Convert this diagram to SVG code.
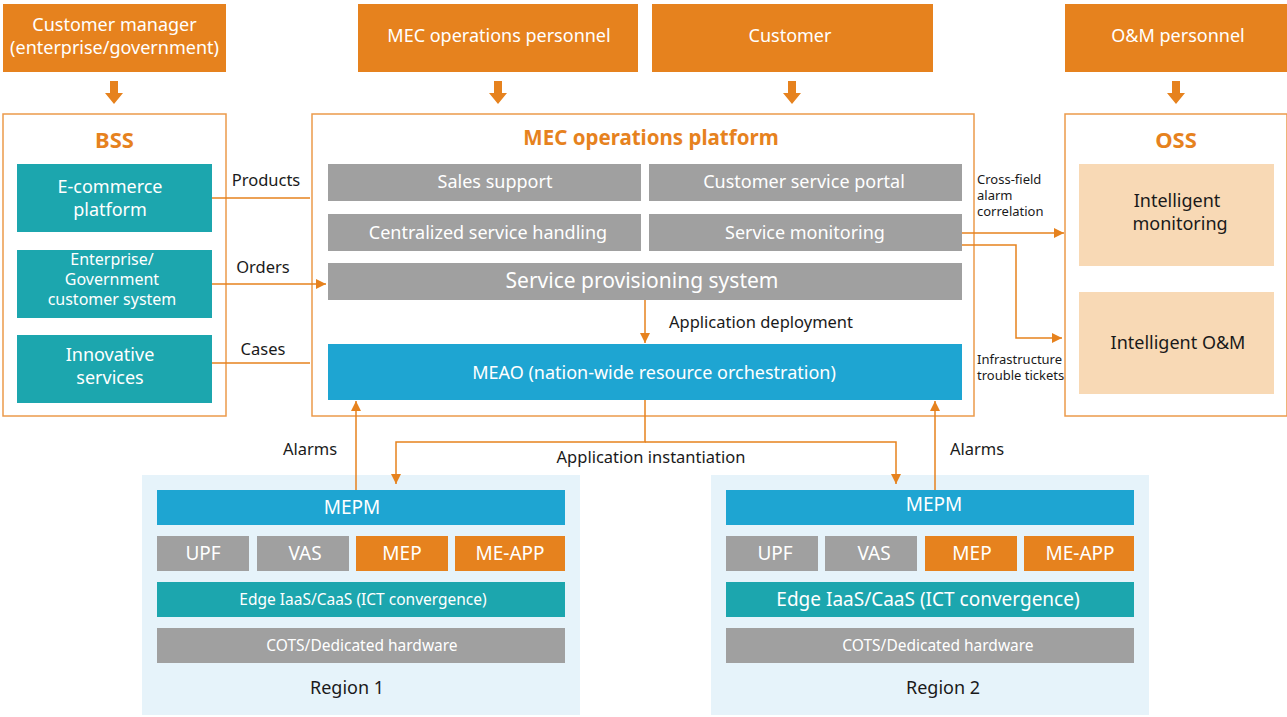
<svg xmlns="http://www.w3.org/2000/svg" width="1287" height="717" viewBox="0 0 1287 717">
<defs>
<style>
text{font-family:"Noto Sans","Open Sans","DejaVu Sans",sans-serif}
.or{fill:#e6821e}
.teal{fill:#1ca6ae}
.blue{fill:#1ea5d2}
.gray{fill:#a0a0a0}
.peach{fill:#f8d9b5}
.frame{fill:#fff;stroke:#eb9a4b;stroke-width:1.5}
.wt{fill:#fff;font-size:18px;text-anchor:middle}
.bt{fill:#1a1a1a;font-size:18px;text-anchor:middle}
.title{fill:#e6821e;font-weight:bold;text-anchor:middle}
.lbl{fill:#1a1a1a;font-size:16.5px}
.sm{fill:#1a1a1a;font-size:13px}
.ln{fill:none;stroke:#e6821e;stroke-width:1.5}
.f15{font-size:15.5px}
.f16{font-size:16px}
.f19{font-size:19px}
.f21{font-size:21px}
</style>
<marker id="ah" viewBox="0 0 10 10" refX="10" refY="5" markerWidth="10" markerHeight="10" markerUnits="userSpaceOnUse" orient="auto">
<path d="M0,0 L10,5 L0,10 z" fill="#e6821e"/>
</marker>
<path id="bigdown" d="M-4,0 H4 V12 H9 L0,23 L-9,12 H-4 z" fill="#e6821e"/>
</defs>

<!-- top actors -->
<g id="customer-manager"><rect x="3" y="4" width="223" height="68" class="or"/><text class="wt" x="114.5" y="31">Customer manager</text><text class="wt" x="114.5" y="54">(enterprise/government)</text></g>
<g id="mec-ops-personnel"><rect x="358" y="4" width="280" height="68" class="or"/><text class="wt" x="499" y="42">MEC operations personnel</text></g>
<g id="customer"><rect x="652" y="4" width="281" height="68" class="or"/><text class="wt" x="790" y="42">Customer</text></g>
<g id="om-personnel"><rect x="1065" y="4" width="222" height="68" class="or"/><text class="wt" x="1178" y="42">O&amp;M personnel</text></g>

<g id="top-arrows">
<use href="#bigdown" x="114" y="81"/>
<use href="#bigdown" x="498" y="81"/>
<use href="#bigdown" x="792" y="81"/>
<use href="#bigdown" x="1176" y="81"/>
</g>

<!-- BSS -->
<g id="bss">
<rect x="3" y="114" width="223" height="302" class="frame"/>
<text class="title" x="114.5" y="148" style="font-size:22px">BSS</text>
<g id="ecommerce"><rect x="17" y="164" width="195" height="68" class="teal"/><text class="wt" x="110" y="193">E-commerce</text><text class="wt" x="110" y="216">platform</text></g>
<g id="egcs"><rect x="17" y="250" width="195" height="68" class="teal"/><text class="wt f16" x="112" y="265">Enterprise/</text><text class="wt f16" x="112" y="285">Government</text><text class="wt f16" x="112" y="305">customer system</text></g>
<g id="innovative"><rect x="17" y="335" width="195" height="68" class="teal"/><text class="wt" x="110" y="361">Innovative</text><text class="wt" x="110" y="384">services</text></g>
</g>

<!-- MEC operations platform -->
<g id="mec-platform">
<rect x="312" y="114" width="662" height="302" class="frame"/>
<text class="title" x="651" y="145" style="font-size:20.5px">MEC operations platform</text>
<g id="sales-support"><rect x="328" y="164" width="313" height="37" class="gray"/><text class="wt" x="495" y="188">Sales support</text></g>
<g id="cs-portal"><rect x="649" y="164" width="313" height="37" class="gray"/><text class="wt" x="804" y="188">Customer service portal</text></g>
<g id="centralized"><rect x="328" y="214" width="313" height="37" class="gray"/><text class="wt" x="488" y="239">Centralized service handling</text></g>
<g id="service-monitoring"><rect x="649" y="214" width="313" height="37" class="gray"/><text class="wt" x="805" y="239">Service monitoring</text></g>
<g id="provisioning"><rect x="328" y="263" width="634" height="37" class="gray"/><text class="wt f21" x="642" y="288">Service provisioning system</text></g>
<g id="meao"><rect x="328" y="344" width="634" height="56" class="blue"/><text class="wt" x="654" y="379">MEAO (nation-wide resource orchestration)</text></g>
</g>

<!-- OSS -->
<g id="oss">
<rect x="1065" y="114" width="222" height="302" class="frame"/>
<text class="title" x="1176" y="148" style="font-size:22px">OSS</text>
<g id="intel-monitoring"><rect x="1079" y="164" width="195" height="102" class="peach"/><text class="bt" x="1177" y="207">Intelligent</text><text class="bt" x="1180" y="230">monitoring</text></g>
<g id="intel-om"><rect x="1079" y="292" width="195" height="102" class="peach"/><text class="bt" x="1178" y="349">Intelligent O&amp;M</text></g>
</g>

<!-- Region 1 -->
<g id="region1">
<rect x="142" y="475" width="438" height="240" fill="#e6f3fa"/>
<g id="r1-mepm"><rect x="157" y="490" width="408" height="35" class="blue"/><text class="wt f19" x="352" y="514">MEPM</text></g>
<g id="r1-upf"><rect x="157" y="536" width="92" height="35" class="gray"/><text class="wt f19" x="203" y="560">UPF</text></g>
<g id="r1-vas"><rect x="257" y="536" width="92" height="35" class="gray"/><text class="wt f19" x="305" y="560">VAS</text></g>
<g id="r1-mep"><rect x="356" y="536" width="92" height="35" class="or"/><text class="wt f19" x="402" y="560">MEP</text></g>
<g id="r1-meapp"><rect x="455" y="536" width="110" height="35" class="or"/><text class="wt f19" x="510" y="560">ME-APP</text></g>
<g id="r1-edge"><rect x="157" y="582" width="408" height="35" class="teal"/><text class="wt f15" x="363" y="605">Edge IaaS/CaaS (ICT convergence)</text></g>
<g id="r1-cots"><rect x="157" y="628" width="408" height="35" class="gray"/><text class="wt f15" x="362" y="651">COTS/Dedicated hardware</text></g>
<text class="bt" x="347" y="694">Region 1</text>
</g>

<!-- Region 2 -->
<g id="region2">
<rect x="711" y="475" width="438" height="240" fill="#e6f3fa"/>
<g id="r2-mepm"><rect x="726" y="490" width="408" height="35" class="blue"/><text class="wt f19" x="934" y="511">MEPM</text></g>
<g id="r2-upf"><rect x="726" y="536" width="92" height="35" class="gray"/><text class="wt f19" x="775" y="560">UPF</text></g>
<g id="r2-vas"><rect x="825" y="536" width="92" height="35" class="gray"/><text class="wt f19" x="874" y="560">VAS</text></g>
<g id="r2-mep"><rect x="925" y="536" width="92" height="35" class="or"/><text class="wt f19" x="972" y="560">MEP</text></g>
<g id="r2-meapp"><rect x="1024" y="536" width="110" height="35" class="or"/><text class="wt f19" x="1080" y="560">ME-APP</text></g>
<g id="r2-edge"><rect x="726" y="582" width="408" height="35" class="teal"/><text class="wt f19" x="928" y="606">Edge IaaS/CaaS (ICT convergence)</text></g>
<g id="r2-cots"><rect x="726" y="628" width="408" height="35" class="gray"/><text class="wt f15" x="938" y="651">COTS/Dedicated hardware</text></g>
<text class="bt" x="943" y="694">Region 2</text>
</g>

<!-- connectors -->
<g id="connectors">
<path class="ln" d="M212,198 H310"/>
<path class="ln" d="M212,284 H326" marker-end="url(#ah)"/>
<path class="ln" d="M212,363 H310"/>
<path class="ln" d="M962,233 H1064" marker-end="url(#ah)"/>
<path class="ln" d="M962,245 H1016 V338 H1062" marker-end="url(#ah)"/>
<path class="ln" d="M645,300 V343" marker-end="url(#ah)"/>
<path class="ln" d="M645,400 V442 H396 V484" marker-end="url(#ah)"/>
<path class="ln" d="M645,442 H896 V484" marker-end="url(#ah)"/>
<path class="ln" d="M356,490 V401" marker-end="url(#ah)"/>
<path class="ln" d="M935,490 V401" marker-end="url(#ah)"/>
</g>

<g id="labels">
<text class="lbl" x="266" y="186" text-anchor="middle">Products</text>
<text class="lbl" x="263" y="273" text-anchor="middle">Orders</text>
<text class="lbl" x="263" y="355" text-anchor="middle">Cases</text>
<text class="sm" x="977" y="184">Cross-field</text>
<text class="sm" x="977" y="200">alarm</text>
<text class="sm" x="977" y="216">correlation</text>
<text class="sm" x="977" y="364">Infrastructure</text>
<text class="sm" x="977" y="380">trouble tickets</text>
<text class="lbl" x="669" y="328">Application deployment</text>
<text class="lbl" x="651" y="463" text-anchor="middle">Application instantiation</text>
<text class="lbl" x="310" y="455" text-anchor="middle">Alarms</text>
<text class="lbl" x="977" y="455" text-anchor="middle">Alarms</text>
</g>
</svg>
